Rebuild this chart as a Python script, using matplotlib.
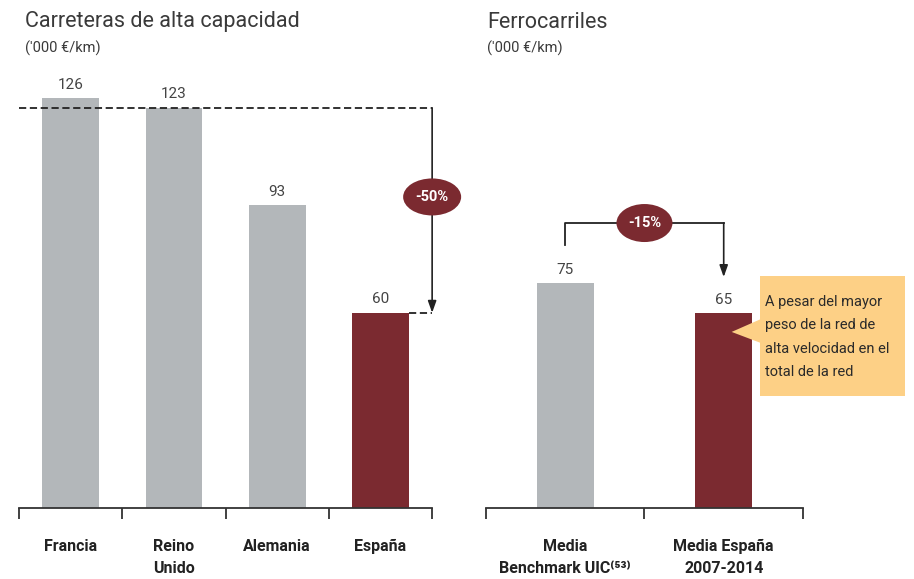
import matplotlib.pyplot as plt
from matplotlib.patches import Polygon, Rectangle, Ellipse
from matplotlib.transforms import ScaledTranslation

plt.rcParams['font.family'] = ['Roboto', 'DejaVu Sans']

road_labels = ["Francia", "Reino\nUnido", "Alemania", "España"]
road_values = [126, 123, 93, 60]
rail_labels = ["Media\nBenchmark UIC⁽⁵³⁾", "Media España\n2007-2014"]
rail_values = [75, 65]

GREY = "#b3b7ba"
RED = "#7b2a30"
INK = "#333333"
NOTE = "#fdd086"

fig = plt.figure(figsize=(9.14, 5.79), dpi=100)
ax1 = fig.add_axes([0.0208, 0.1226, 0.452, 0.7737])
ax2 = fig.add_axes([0.5317, 0.1226, 0.3468, 0.7737])


def style(ax, labels, values, colors, width, ytop):
    x = range(len(values))
    ax.bar(x, values, width=width, color=colors, zorder=2)
    for xi, v in zip(x, values):
        ax.text(xi, v + 2, str(v), ha="center", va="bottom", fontsize=11, color="#444444")
    ax.set_xlim(-0.5, len(values) - 0.5)
    ax.set_ylim(0, ytop)
    for s in ("left", "right", "top"):
        ax.spines[s].set_visible(False)
    ax.spines["bottom"].set_color(INK)
    ax.spines["bottom"].set_linewidth(1.3)
    ax.set_yticks([])
    ax.set_xticks(list(x))
    ax.set_xticklabels(labels, fontsize=11.5, fontweight="bold", color="#222222", linespacing=1.6,
                       va="top")
    ax.tick_params(axis="x", which="major", length=0, pad=22)
    ax.set_xticks([i - 0.5 for i in range(len(values) + 1)], minor=True)
    ax.tick_params(axis="x", which="minor", length=8, width=1.3, color=INK, direction="out")


def badge(ax, x, y, text, w=0.58, h=0.37):
    # ellipse sized in inches, centred on a data point
    tr = fig.dpi_scale_trans + ScaledTranslation(x, y, ax.transData)
    ax.add_patch(Ellipse((0, 0), w, h, transform=tr, fc=RED, ec="none", clip_on=False, zorder=4))
    ax.text(x, y, text, ha="center", va="center", fontsize=10.5, fontweight="bold", color="white",
            zorder=5)


style(ax1, road_labels, road_values, [GREY, GREY, GREY, RED], 0.55, 448 / 3.254)
style(ax2, rail_labels, rail_values, [GREY, RED], 0.36, 448 / 3.0)

# titles
fig.text(25 / 914, 1 - 22 / 579, "Carreteras de alta capacidad", fontsize=15.5, color="#3a3a3a", va="center")
fig.text(25 / 914, 1 - 48 / 579, "('000 €/km)", fontsize=10.5, color="#3a3a3a", va="center")
fig.text(487 / 914, 1 - 22 / 579, "Ferrocarriles", fontsize=15.5, color="#3a3a3a", va="center")
fig.text(487 / 914, 1 - 48 / 579, "('000 €/km)", fontsize=10.5, color="#3a3a3a", va="center")

# -50% comparison on roads
top, low = road_values[1], road_values[3]
ax1.plot([-0.5, 3.5], [top, top], ls=(0, (4, 2)), color="#222222", lw=1.3, clip_on=False, zorder=3)
ax1.plot([3.5 - 0.225, 3.5], [low, low], ls=(0, (4, 2)), color="#222222", lw=1.3, clip_on=False, zorder=3)
ax1.annotate("", xy=(3.5, low), xytext=(3.5, top), annotation_clip=False,
             arrowprops=dict(arrowstyle="-|>,head_width=0.25,head_length=0.7", color="#222222", lw=1.2,
                             shrinkA=0, shrinkB=0))
badge(ax1, 3.5, 95.6, "-50%")

# -15% comparison on rail
yb = 95
ax2.plot([0, 0, 1], [87.7, yb, yb], color="#222222", lw=1.3, clip_on=False, zorder=3)
ax2.annotate("", xy=(1, 77), xytext=(1, yb), annotation_clip=False,
             arrowprops=dict(arrowstyle="-|>,head_width=0.25,head_length=0.7", color="#222222", lw=1.2,
                             shrinkA=0, shrinkB=0))
badge(ax2, 0.5, yb, "-15%", w=0.56, h=0.38)

# note box beside the Spanish rail bar
ax2.add_patch(Rectangle((1.229, 37.3), 0.915, 40.0, fc=NOTE, ec="none", clip_on=False, zorder=4))
ax2.add_patch(Polygon([(1.05, 58.7), (1.235, 63.0), (1.235, 55.0)], closed=True, fc=NOTE, ec="none",
                      clip_on=False, zorder=4))
ax2.text(1.26, 57.0, "A pesar del mayor\npeso de la red de\nalta velocidad en el\ntotal de la red",
         ha="left", va="center", fontsize=10.5, color="#2a2a2a", linespacing=1.85, zorder=5)

fig.savefig("out.png", dpi=100)
